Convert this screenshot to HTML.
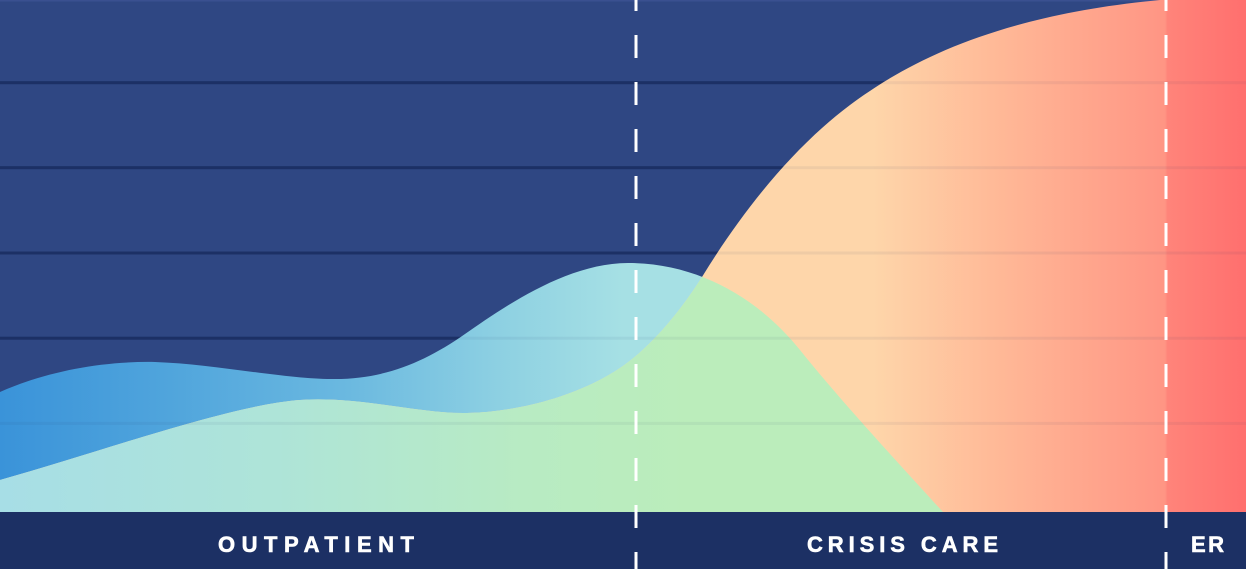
<!DOCTYPE html>
<html>
<head>
<meta charset="utf-8">
<style>
html,body{margin:0;padding:0;background:#2f4783;}
svg{display:block;}
</style>
</head>
<body>
<svg width="1246" height="569" viewBox="0 0 1246 569" xmlns="http://www.w3.org/2000/svg">
  <defs>
    <linearGradient id="gBlue" x1="0" y1="0" x2="1246" y2="0" gradientUnits="userSpaceOnUse">
      <stop offset="0" stop-color="#3a93d9"/>
      <stop offset="0.13" stop-color="#4fa4dc"/>
      <stop offset="0.28" stop-color="#6bb9e0"/>
      <stop offset="0.40" stop-color="#8dd0e2"/>
      <stop offset="0.50" stop-color="#a6e0e4"/>
      <stop offset="1" stop-color="#aae2e4"/>
    </linearGradient>
    <linearGradient id="gGreen" x1="0" y1="0" x2="1246" y2="0" gradientUnits="userSpaceOnUse">
      <stop offset="0" stop-color="#a7dee6"/>
      <stop offset="0.22" stop-color="#aee4d8"/>
      <stop offset="0.42" stop-color="#b8ebc3"/>
      <stop offset="0.55" stop-color="#bbedbb"/>
      <stop offset="1" stop-color="#bbedbb"/>
    </linearGradient>
    <linearGradient id="gOrange" x1="0" y1="0" x2="1246" y2="0" gradientUnits="userSpaceOnUse">
      <stop offset="0" stop-color="#fed8ab"/>
      <stop offset="0.70" stop-color="#fed6aa"/>
      <stop offset="0.80" stop-color="#ffb997"/>
      <stop offset="0.935" stop-color="#ff9584"/>
      <stop offset="0.937" stop-color="#ff847a"/>
      <stop offset="1" stop-color="#ff6f6e"/>
    </linearGradient>
    <clipPath id="clipHump">
      <path d="M0,392 C45,372 100,361 155,362 C215,364 290,380 335,379 C385,379 425,362 465,334 C500,310 565,263 628,263 C700,263 760,300 800,350 C840,400 900,465 943,512 L0,512 Z"/>
    </clipPath>
  </defs>

  <rect x="0" y="0" width="1246" height="569" fill="#2f4783"/>
  <rect x="0" y="0" width="1246" height="1.5" fill="#3a5090"/>

  <g fill="#1c3065">
    <rect x="0" y="81.2" width="1246" height="3"/>
    <rect x="0" y="166.2" width="1246" height="3"/>
    <rect x="0" y="251.5" width="1246" height="3"/>
    <rect x="0" y="336.7" width="1246" height="3"/>
    <rect x="0" y="421.9" width="1246" height="3"/>
  </g>

  <path fill="url(#gBlue)" d="M0,392 C45,372 100,361 155,362 C215,364 290,380 335,379 C385,379 425,362 465,334 C500,310 565,263 628,263 C700,263 760,300 800,350 C840,400 900,465 943,512 L0,512 Z"/>

  <path fill="url(#gOrange)" d="M0,480 C100,452 230,405 300,400 C360,396 420,414 467,413 C520,412 580,395 620,368 C650,348 680,312 702,277 C740,215 790,150 850,105 C910,60 1000,15 1160,0 L1246,0 L1246,512 L0,512 Z"/>

  <g clip-path="url(#clipHump)">
    <path fill="url(#gGreen)" d="M0,480 C100,452 230,405 300,400 C360,396 420,414 467,413 C520,412 580,395 620,368 C650,348 680,312 702,277 C740,215 790,150 850,105 C910,60 1000,15 1160,0 L1246,0 L1246,512 L0,512 Z"/>
  </g>

  <g fill="#1c3065" opacity="0.06">
    <rect x="0" y="81.2" width="1246" height="3"/>
    <rect x="0" y="166.2" width="1246" height="3"/>
    <rect x="0" y="251.5" width="1246" height="3"/>
    <rect x="0" y="336.7" width="1246" height="3"/>
    <rect x="0" y="421.9" width="1246" height="3"/>
  </g>

  <rect x="0" y="512" width="1246" height="57" fill="#1c3064"/>

  <path d="M636,-12 L636,569" stroke="#ffffff" stroke-width="3" stroke-dasharray="23 24" fill="none"/>
  <path d="M1166,-12 L1166,569" stroke="#ffffff" stroke-width="3" stroke-dasharray="23 24" fill="none"/>

  <g fill="#ffffff" stroke="#ffffff" stroke-width="0.6" font-family="'Liberation Sans', Arial, sans-serif" font-weight="bold" font-size="22">
    <text x="218" y="552" textLength="196" lengthAdjust="spacing">OUTPATIENT</text>
    <text x="807" y="552" textLength="191" lengthAdjust="spacing">CRISIS CARE</text>
    <text x="1191" y="552" textLength="33" lengthAdjust="spacing">ER</text>
  </g>
</svg>
</body>
</html>
